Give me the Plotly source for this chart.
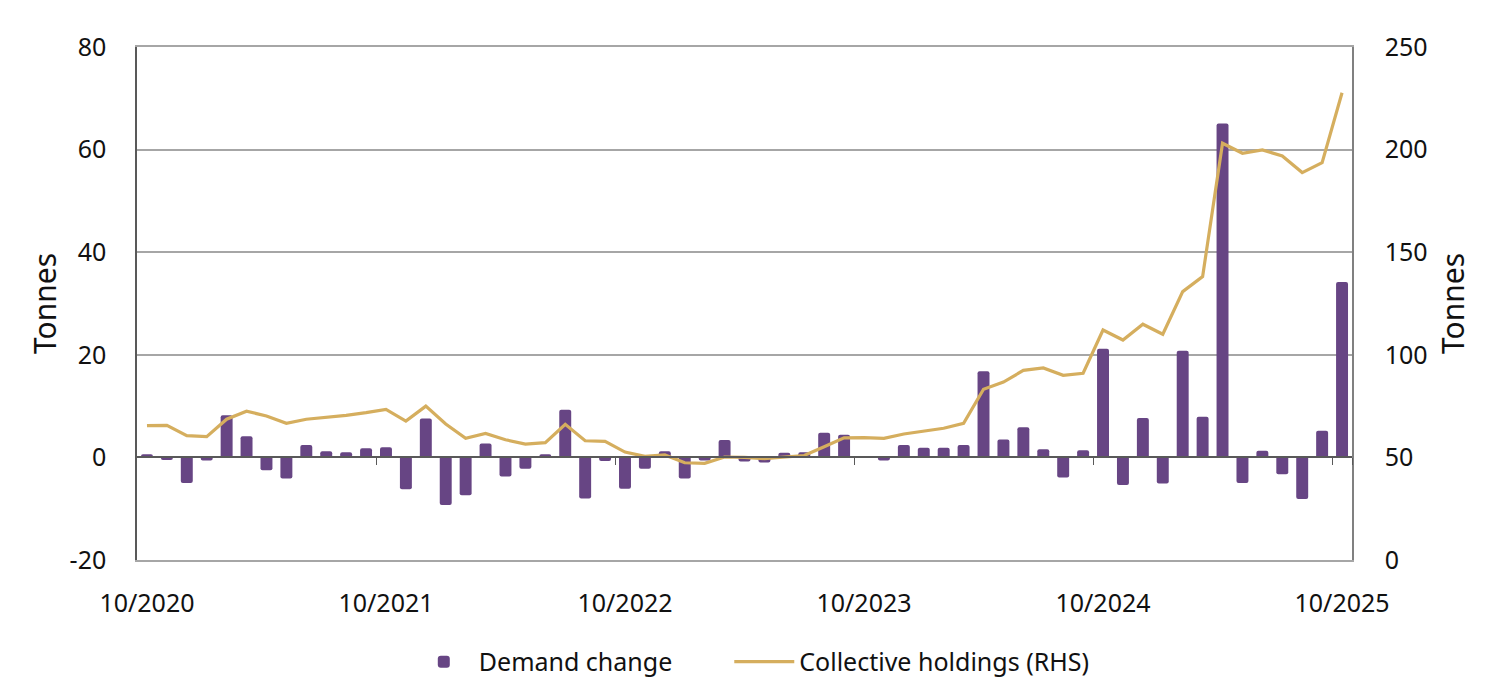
import pandas as pd
import plotly.graph_objects as go

# Monthly categories 10/2020 .. 10/2025
months = [d.strftime("%m/%Y") for d in pd.date_range("2020-10-01", "2025-10-01", freq="MS")]
label_months = ["10/2020", "10/2021", "10/2022", "10/2023", "10/2024", "10/2025"]
boundary_months = ["10/2021", "10/2022", "10/2023", "10/2024", "10/2025"]

demand_change = [0.6, -0.5, -5.0, -0.6, 8.2, 4.1, -2.5, -4.1, 2.4, 1.2,
                 1.0, 1.8, 2.0, -6.2, 7.6, -9.3, -7.4, 2.7, -3.7, -2.2,
                 0.6, 9.3, -8.0, -0.7, -6.1, -2.2, 1.2, -4.1, -0.6, 3.4,
                 -0.8, -1.0, 0.9, 1.0, 4.8, 4.4, 0.0, -0.6, 2.4, 1.9,
                 1.9, 2.4, 16.8, 3.5, 5.9, 1.6, -3.9, 1.4, 21.2, -5.4,
                 7.7, -5.1, 20.8, 7.9, 65.1, -5.0, 1.3, -3.3, -8.1, 5.2,
                 34.2]

collective_holdings = [65.5, 65.6, 60.6, 60.1, 68.6, 72.5, 70.2, 66.6, 68.6, 69.5,
                       70.5, 71.8, 73.4, 67.7, 75.0, 66.3, 59.3, 61.7, 58.6, 56.5,
                       57.2, 66.1, 58.1, 57.8, 52.6, 50.5, 51.2, 47.4, 47.1, 50.2,
                       50.0, 49.4, 50.0, 50.9, 55.2, 59.5, 59.6, 59.3, 61.4, 62.7,
                       64.2, 66.6, 83.2, 86.7, 92.4, 93.6, 90.0, 91.0, 112.1, 107.2,
                       114.9, 110.0, 130.8, 138.1, 203.1, 198.2, 199.8, 196.9, 188.8, 193.6,
                       227.7]

left_ticks = [-20, 0, 20, 40, 60, 80]
left_tick_text = ["-20", "0", "20", "40", "60", "80"]
right_ticks = [0, 50, 100, 150, 200, 250]
right_tick_text = ["0", "50", "100", "150", "200", "250"]

PURPLE = "#674584"
GOLD = "#d5ae5e"
GRID = "#a6a6a6"
FONT = "Noto Sans"
FS = 25

fig = go.Figure()
fig.add_trace(go.Bar(
    x=months, y=demand_change, name="Demand change" + "\u00a0" * 8,
    marker=dict(color=PURPLE, line=dict(width=0), cornerradius=2),
    xaxis="x", yaxis="y",
))
fig.add_trace(go.Scatter(
    x=months, y=collective_holdings, name="Collective holdings (RHS)",
    mode="lines", line=dict(color=GOLD, width=3.2),
    xaxis="x", yaxis="y2",
))
# invisible carrier so the bottom label axis is drawn
fig.add_trace(go.Scatter(
    x=months, y=demand_change, mode="none", showlegend=False, hoverinfo="skip",
    xaxis="x3", yaxis="y",
))

fig.update_layout(
    width=1484, height=684,
    margin=dict(l=129, r=140, t=39, b=132, autoexpand=False),
    paper_bgcolor="white", plot_bgcolor="white",
    font=dict(family=FONT, size=FS, color="#111111"),
    bargap=0.4,
    showlegend=True,
    legend=dict(orientation="h", x=0.506, xanchor="center",
                yref="container", y=0.044, yanchor="middle",
                font=dict(size=FS), itemwidth=60, traceorder="normal"),
    xaxis=dict(
        type="category", categoryorder="array", categoryarray=months,
        range=[-0.5, len(months) - 0.5],
        anchor="free", position=0.2,
        showline=True, linecolor="#595959", linewidth=1.5,
        ticks="outside", ticklen=7, tickcolor="#595959", tickwidth=1.2,
        tickson="boundaries", tickmode="array", tickvals=boundary_months,
        showticklabels=False, showgrid=False, zeroline=False,
    ),
    xaxis3=dict(
        type="category", categoryorder="array", categoryarray=months,
        range=[-0.5, len(months) - 0.5],
        overlaying="x", anchor="y", side="bottom",
        tickmode="array", tickvals=label_months, ticktext=label_months,
        ticks="", showline=True, mirror=True, linecolor=GRID, linewidth=2,
        showgrid=False, zeroline=False,
        ticklabelstandoff=20,
    ),
    yaxis=dict(
        range=[-20, 80], tickmode="array", tickvals=left_ticks, ticktext=left_tick_text,
        showgrid=True, gridcolor=GRID, gridwidth=2,
        showline=True, linecolor="#595959", linewidth=1.5,
        zeroline=False, ticks="", ticklabelstandoff=24,
        title=dict(text="Tonnes", standoff=4),
    ),
    yaxis2=dict(
        range=[0, 250], tickmode="array", tickvals=right_ticks, ticktext=right_tick_text,
        overlaying="y", side="right", anchor="x",
        showgrid=False, showline=True, linecolor="#808080", linewidth=1.5,
        zeroline=False, ticks="", ticklabelstandoff=26,
        title=dict(text="Tonnes", standoff=16),
    ),
)

fig.write_html("out.html")
